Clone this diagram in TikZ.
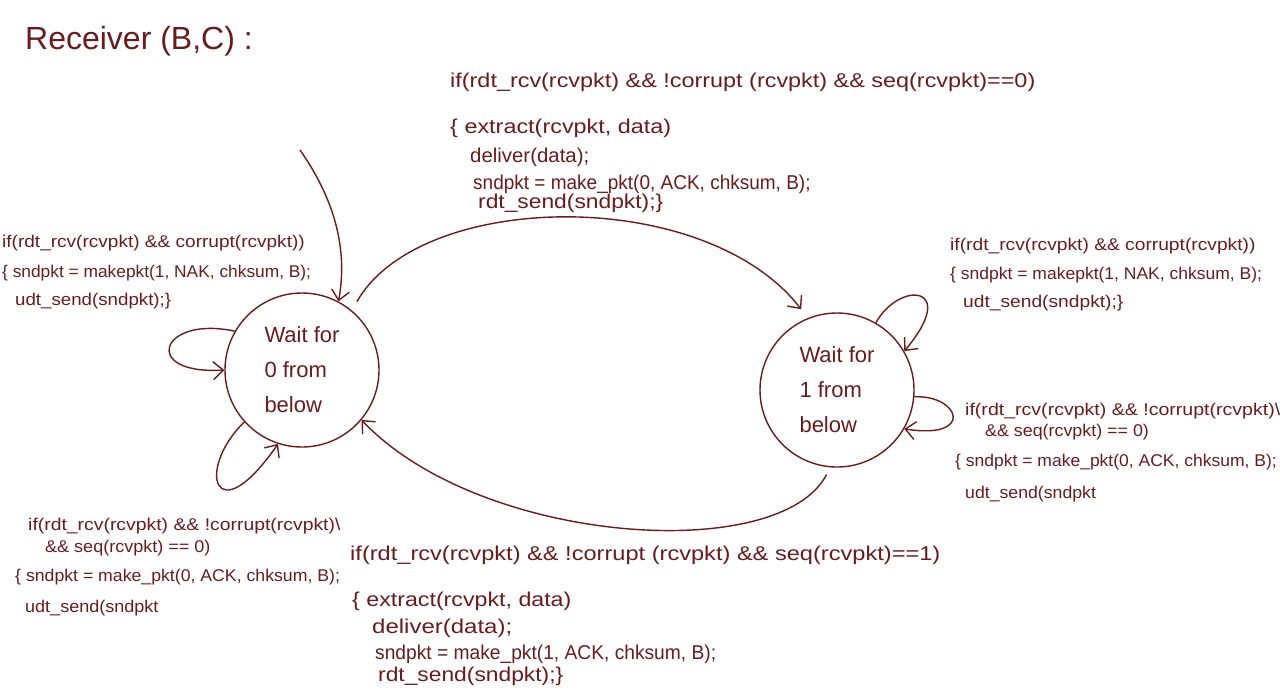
\documentclass[tikz,border=0pt]{standalone}
\usepackage{fontspec}
\usepackage{graphicx}
\setmainfont{Liberation Sans}
\usetikzlibrary{arrows.meta}
\definecolor{hand}{RGB}{105,28,30}
\newcommand{\sx}[2]{\scalebox{#1}[1]{#2}}
\begin{document}
\begin{tikzpicture}[x=1pt,y=-1pt,
  lbl/.style={anchor=base west, inner sep=0pt, text=hand, font=\fontsize{17}{19}\selectfont},
  big/.style={lbl, font=\fontsize{20}{22}\selectfont},
  state/.style={circle, draw=hand, line width=1.4pt, minimum size=154pt, inner sep=0pt,
    align=left, text=hand, font=\fontsize{22}{35}\selectfont},
  edge/.style={draw=hand, line width=1.4pt, -{Straight Barb[length=10pt,width=18pt]}}]
\useasboundingbox (0,0) rectangle (1280,697);

\node[lbl, font=\fontsize{32}{34}\selectfont] (title) at (25,49) {Receiver (B,C) :};

\node[state] (L) at (302,370) {Wait for\\0 from\\below};
\node[state] (R) at (837,390) {Wait for\\1 from\\below};

% top label
\node[big] (t1) at (450,87) {\sx{1.17}{if(rdt\_rcv(rcvpkt) \&\& !corrupt (rcvpkt) \&\& seq(rcvpkt)==0)}};
\node[big] (t2) at (450,133) {\sx{1.17}{\{ extract(rcvpkt, data)}};
\node[big] (t3) at (470,162) {\sx{1.02}{deliver(data);}};
\node[big] (t4) at (473,189) {\sx{0.95}{sndpkt = make\_pkt(0, ACK, chksum, B);}};
\node[big] (t5) at (478,208) {\sx{1.14}{rdt\_send(sndpkt);\}}};

% bottom label
\node[big] (b1) at (350,560) {\sx{1.18}{if(rdt\_rcv(rcvpkt) \&\& !corrupt (rcvpkt) \&\& seq(rcvpkt)==1)}};
\node[big] (b2) at (352,606) {\sx{1.16}{\{ extract(rcvpkt, data)}};
\node[big] (b3) at (372,633) {\sx{1.2}{deliver(data);}};
\node[big] (b4) at (375,659) {\sx{0.96}{sndpkt = make\_pkt(1, ACK, chksum, B);}};
\node[big] (b5) at (378,681) {\sx{1.14}{rdt\_send(sndpkt);\}}};

% left upper label
\node[lbl] (lu1) at (2,247) {\sx{1.12}{if(rdt\_rcv(rcvpkt) \&\& corrupt(rcvpkt))}};
\node[lbl] (lu2) at (2,277) {\sx{1.02}{\{ sndpkt = makepkt(1, NAK, chksum, B);}};
\node[lbl] (lu3) at (15,305) {\sx{1.1}{udt\_send(sndpkt);\}}};

% right upper label
\node[lbl] (ru1) at (950,250) {\sx{1.13}{if(rdt\_rcv(rcvpkt) \&\& corrupt(rcvpkt))}};
\node[lbl] (ru2) at (950,279) {\sx{1.03}{\{ sndpkt = makepkt(1, NAK, chksum, B);}};
\node[lbl] (ru3) at (963,307) {\sx{1.13}{udt\_send(sndpkt);\}}};

% right lower label
\node[lbl] (rl1) at (965,415) {\sx{1.15}{if(rdt\_rcv(rcvpkt) \&\& !corrupt(rcvpkt)\textbackslash}};
\node[lbl] (rl2) at (985,436) {\sx{1.05}{\&\& seq(rcvpkt) == 0)}};
\node[lbl] (rl3) at (955,466) {\sx{1.03}{\{ sndpkt = make\_pkt(0, ACK, chksum, B);}};
\node[lbl] (rl4) at (965,498) {\sx{1.04}{udt\_send(sndpkt}};

% left lower label
\node[lbl] (ll1) at (28,530) {\sx{1.14}{if(rdt\_rcv(rcvpkt) \&\& !corrupt(rcvpkt)\textbackslash}};
\node[lbl] (ll2) at (45,552) {\sx{1.06}{\&\& seq(rcvpkt) == 0)}};
\node[lbl] (ll3) at (15,581) {\sx{1.04}{\{ sndpkt = make\_pkt(0, ACK, chksum, B);}};
\node[lbl] (ll4) at (25,612) {\sx{1.06}{udt\_send(sndpkt}};

% edges
\coordinate (start) at (300,150);
\draw[edge] (start) .. controls (335,200) and (348,250) .. (L.62);
\draw[edge, shorten <=10pt, shorten >=11pt] (L.50) .. controls (420,190) and (705,185) .. (R.112);
\draw[edge, shorten <=8pt] (R.265) .. controls (780,565) and (480,545) .. (L.-40);
\draw[edge] (L.150) .. controls (160,315) and (140,375) .. (L.180);
\draw[edge] (L.222) .. controls (195,470) and (215,535) .. (L.252);
\draw[edge] (R.60) .. controls (900,280) and (960,285) .. (R.30);
\draw[edge] (R.-5) .. controls (960,395) and (975,440) .. (R.-30);
\end{tikzpicture}
\end{document}
